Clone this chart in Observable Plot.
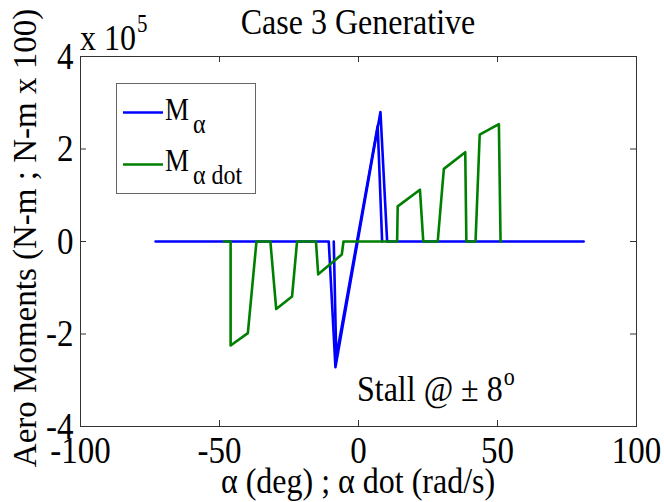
<!DOCTYPE html>
<html><head><meta charset="utf-8">
<script src="https://cdn.jsdelivr.net/npm/d3@7"></script>
<script src="https://cdn.jsdelivr.net/npm/@observablehq/plot@0.6"></script>
<style>body{margin:0;background:#fff} svg text{font-family:'Liberation Serif','Times New Roman',serif !important;}</style>
</head><body><div id="chart"></div>
<script>
// M_alpha vs alpha (deg), values in units of 1e5 N-m; two sweeps
const alphaSweep1 = [-73, -10.7, -8.3, 7.9, 10.3, 81];
const mAlphaSweep1 = [0, 0, -2.72, 2.80, 0, 0];
const alphaSweep2 = [-8.9, -8.0, 6.9, 8.5];
const mAlphaSweep2 = [0, -2.5, 2.5, 0];
// M_alpha_dot vs alpha dot (rad/s), units of 1e5 (N-m x 100)
const alphaDot = [-48.4, -46, -46, -39.8, -36.7, -31.7, -29.6, -23.9, -22.1, -15.3, -14.5, -6.0, -5.4,
                  13.9, 14.1, 22.1, 23.3, 28.5, 30.7, 38.4, 38.8, 42.1, 43.6, 50.5, 51.1, 51.3];
const mAlphaDot = [0, 0, -2.25, -1.98, 0, 0, -1.46, -1.19, 0, 0, -0.71, -0.28, 0,
                   0, 0.76, 1.12, 0, 0, 1.57, 1.93, 0, 0, 2.31, 2.54, 0, 0];
const xTicks = [-100, -50, 0, 50, 100];
const yTicks = [-4, -2, 0, 2, 4];

const blue = [
  ...alphaSweep1.map((x, i) => ({x, y: mAlphaSweep1[i], s: 1})),
  ...alphaSweep2.map((x, i) => ({x, y: mAlphaSweep2[i], s: 2}))
];
const green = alphaDot.map((x, i) => ({x, y: mAlphaDot[i]}));

const FONT = "'Liberation Serif', 'Times New Roman', serif";
const S = 1.15; // vertical stretch of horizontal text

const svgEl = Plot.plot({
  width: 664, height: 502,
  marginLeft: 80, marginRight: 28, marginTop: 56, marginBottom: 76,
  style: {fontFamily: FONT, fontSize: "32px", background: "#fff", color: "#000"},
  x: {domain: [-100, 100]},
  y: {domain: [-4, 4]},
  marks: [
    Plot.line(blue, {x: "x", y: "y", z: "s", stroke: "#0000ff", strokeWidth: 2.6}),
    Plot.line(green, {x: "x", y: "y", stroke: "#008000", strokeWidth: 2.6}),
    Plot.frame({stroke: "#333", strokeWidth: 1}),
    Plot.tickX(xTicks, {x: d => d, stroke: "#333", insetTop: 364}),
    Plot.tickX(xTicks, {x: d => d, stroke: "#333", insetBottom: 364}),
    Plot.tickY(yTicks, {y: d => d, stroke: "#333", insetRight: 550}),
    Plot.tickY(yTicks, {y: d => d, stroke: "#333", insetLeft: 550}),
    Plot.axisX({ticks: xTicks, tickSize: 0, tickPadding: 10, tickFormat: d => String(d), label: null, fontSize: 33, fontFamily: FONT, fill: "#000"}),
    Plot.axisY({ticks: yTicks, tickSize: 0, tickPadding: 7, tickFormat: d => String(d), label: null, fontSize: 33, fontFamily: FONT, fill: "#000"})
  ]
});

// stretch horizontal texts vertically, force serif font
d3.select(svgEl).selectAll("text").each(function() {
  this.setAttribute("font-family", FONT);
  const t = this.getAttribute("transform");
  if (t && !t.includes("rotate")) this.setAttribute("transform", t + ` scale(1,${S})`);
});

const svg = d3.select(svgEl);
function addText(x, y, anchor, parts, size) {
  const t = svg.append("text")
    .attr("transform", `translate(${x},${y}) scale(1,${S})`)
    .attr("text-anchor", anchor)
    .attr("font-family", FONT)
    .attr("font-size", size)
    .attr("fill", "#000");
  parts.forEach(p => {
    t.append("tspan").attr("font-size", p.size || size).attr("dy", p.dy || 0).attr("dx", p.dx || 0).text(p.text);
  });
  return t;
}
// title
addText(358, 34, "middle", [{text: "Case 3 Generative"}], 32);
// x label
addText(358, 493, "middle", [{text: "α (deg) ; α dot (rad/s)"}], 32);
// exponent
addText(80, 50, "start", [{text: "x 10"}, {text: "5", size: 21, dy: -16, dx: 1}], 32);
// stall annotation
addText(357, 401, "start", [{text: "Stall @ ± 8"}, {text: "o", size: 22, dy: -14, dx: 1}], 32);
// y label
svg.append("text")
  .attr("transform", "translate(36,238) rotate(-90)")
  .attr("text-anchor", "middle")
  .attr("font-family", FONT).attr("font-size", 33).attr("fill", "#000")
  .text("Aero Moments (N-m ; N-m x 100)");

// legend
const lg = svg.append("g");
lg.append("rect").attr("x", 116.5).attr("y", 83.5).attr("width", 139).attr("height", 110)
  .attr("fill", "#fff").attr("stroke", "#666").attr("stroke-width", 1);
lg.append("line").attr("x1", 123).attr("x2", 163).attr("y1", 112.5).attr("y2", 112.5).attr("stroke", "#0000ff").attr("stroke-width", 2.6);
lg.append("line").attr("x1", 123).attr("x2", 163).attr("y1", 164.5).attr("y2", 164.5).attr("stroke", "#008000").attr("stroke-width", 2.6);
addText(165, 120, "start", [{text: "M"}, {text: "α", size: 24, dy: 11, dx: 4}], 27);
addText(165, 171, "start", [{text: "M"}, {text: "α dot", size: 24, dy: 11, dx: 4}], 27);

document.getElementById("chart").appendChild(svgEl);
</script>
</body></html>
